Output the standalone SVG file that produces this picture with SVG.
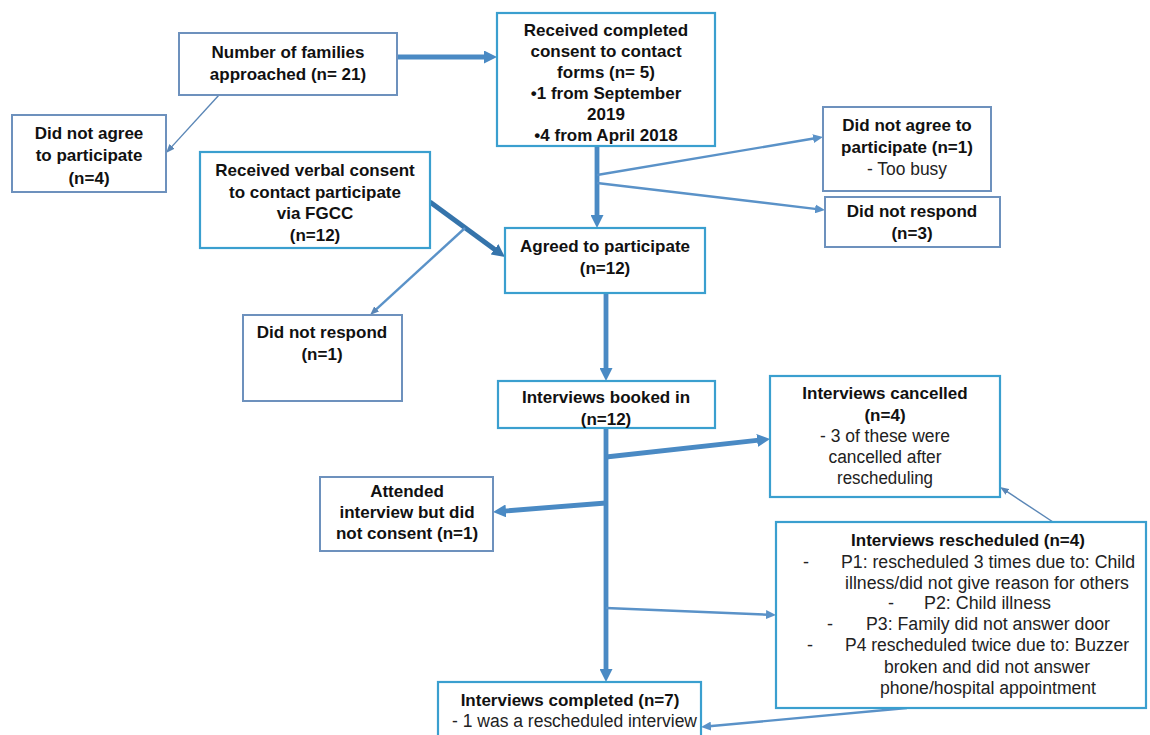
<svg xmlns="http://www.w3.org/2000/svg" width="1150" height="735" viewBox="0 0 1150 735">
  <style>
    .bc { fill: #ffffff; stroke: #3a9fcf; stroke-width: 2.2; }
    .bg { fill: #ffffff; stroke: #6d91bd; stroke-width: 2; }
    .t { font-family: "Liberation Sans", Arial, sans-serif; font-weight: bold; font-size: 17px; fill: #111111; text-anchor: middle; }
    .n { font-family: "Liberation Sans Narrow", "Liberation Sans", Arial, sans-serif; font-size: 18px; fill: #222222; }
    .m { text-anchor: middle; }
    .thick { stroke: #4a8ac4; stroke-width: 4.8; fill: none; }
    .dark { stroke: #3574ab; stroke-width: 5; fill: none; }
    .mid { stroke: #5a92c8; stroke-width: 2.4; fill: none; }
    .thin { stroke: #5a86b6; stroke-width: 1.4; fill: none; }
  </style>
  <defs>
    <marker id="ahL" markerUnits="userSpaceOnUse" markerWidth="14" markerHeight="13" refX="2" refY="6.5" orient="auto">
      <path d="M0,0 L13,6.5 L0,13 z" fill="#4a8ac4"/>
    </marker>
    <marker id="ahD" markerUnits="userSpaceOnUse" markerWidth="14" markerHeight="13" refX="2" refY="6.5" orient="auto">
      <path d="M0,0 L13,6.5 L0,13 z" fill="#3574ab"/>
    </marker>
    <marker id="ahM" markerUnits="userSpaceOnUse" markerWidth="11" markerHeight="9" refX="2" refY="4.5" orient="auto">
      <path d="M0,0 L10,4.5 L0,9 z" fill="#5a92c8"/>
    </marker>
    <marker id="ahS" markerUnits="userSpaceOnUse" markerWidth="10" markerHeight="7" refX="1" refY="3.5" orient="auto">
      <path d="M0,0 L9,3.5 L0,7 z" fill="#5a86b6"/>
    </marker>
  </defs>

  <rect width="1150" height="735" fill="#ffffff"/>

  <!-- connectors -->
  <g id="connectors">
    <line class="thick" x1="397" y1="57" x2="486" y2="57" marker-end="url(#ahL)"/>
    <line class="thin" x1="219" y1="95" x2="171.4" y2="147.1" marker-end="url(#ahS)"/>
    <line class="thick" x1="597" y1="146" x2="597" y2="217" marker-end="url(#ahL)"/>
    <line class="mid" x1="597" y1="175" x2="815.1" y2="138.3" marker-end="url(#ahM)"/>
    <line class="mid" x1="597" y1="183" x2="817.1" y2="209.1" marker-end="url(#ahM)"/>
    <line class="dark" x1="430" y1="202" x2="496.1" y2="250.5" marker-end="url(#ahD)"/>
    <line class="mid" x1="465" y1="228" x2="375.9" y2="309.6" marker-end="url(#ahS)"/>
    <line class="thick" x1="606" y1="293" x2="606" y2="370" marker-end="url(#ahL)"/>
    <line class="thick" x1="606" y1="428" x2="606" y2="671" marker-end="url(#ahL)"/>
    <line class="thick" x1="606" y1="457" x2="759.1" y2="440.2" marker-end="url(#ahL)"/>
    <line class="thick" x1="606" y1="503" x2="504" y2="511.1" marker-end="url(#ahL)"/>
    <line class="mid" x1="606" y1="608" x2="768" y2="614.7" marker-end="url(#ahM)"/>
    <line class="thin" x1="1053" y1="522" x2="1006.7" y2="491.4" marker-end="url(#ahS)"/>
    <line class="mid" x1="907" y1="708" x2="709" y2="726.3" marker-end="url(#ahM)"/>
  </g>

  <g id="families-approached">
    <rect class="bg" x="179" y="33" width="218" height="62"/>
    <text class="t" x="288" y="58">Number of families</text>
    <text class="t" x="288" y="80">approached (n= 21)</text>
  </g>

  <g id="consent-forms">
    <rect class="bc" x="497" y="13" width="218" height="133"/>
    <text class="t" x="606" y="36">Received completed</text>
    <text class="t" x="606" y="57">consent to contact</text>
    <text class="t" x="606" y="78">forms (n= 5)</text>
    <text class="t" x="606" y="99">•1 from September</text>
    <text class="t" x="606" y="120">2019</text>
    <text class="t" x="606" y="141">•4 from April 2018</text>
  </g>

  <g id="not-agree-4">
    <rect class="bg" x="12" y="115" width="154" height="77"/>
    <text class="t" x="89" y="139">Did not agree</text>
    <text class="t" x="89" y="161">to participate</text>
    <text class="t" x="89" y="184">(n=4)</text>
  </g>

  <g id="verbal-consent">
    <rect class="bc" x="200" y="152" width="230" height="96"/>
    <text class="t" x="315" y="176">Received verbal consent</text>
    <text class="t" x="315" y="198">to contact participate</text>
    <text class="t" x="315" y="219">via FGCC</text>
    <text class="t" x="315" y="241">(n=12)</text>
  </g>

  <g id="agreed">
    <rect class="bc" x="505" y="228" width="200" height="65"/>
    <text class="t" x="605" y="252">Agreed to participate</text>
    <text class="t" x="605" y="274">(n=12)</text>
  </g>

  <g id="not-agree-1">
    <rect class="bg" x="823" y="107" width="168" height="84"/>
    <text class="t" x="907" y="131">Did not agree to</text>
    <text class="t" x="907" y="153">participate (n=1)</text>
    <text class="n m" x="907" y="175" textLength="80" lengthAdjust="spacingAndGlyphs">- Too busy</text>
  </g>

  <g id="no-response-3">
    <rect class="bg" x="825" y="197" width="175" height="50"/>
    <text class="t" x="912" y="217">Did not respond</text>
    <text class="t" x="912" y="239">(n=3)</text>
  </g>

  <g id="no-response-1">
    <rect class="bg" x="243" y="315" width="159" height="86"/>
    <text class="t" x="322" y="338">Did not respond</text>
    <text class="t" x="322" y="360">(n=1)</text>
  </g>

  <g id="booked">
    <rect class="bc" x="498" y="381" width="217" height="47"/>
    <text class="t" x="606" y="403">Interviews booked in</text>
    <text class="t" x="606" y="425">(n=12)</text>
  </g>

  <g id="cancelled">
    <rect class="bc" x="770" y="376" width="230" height="121"/>
    <text class="t" x="885" y="399">Interviews cancelled</text>
    <text class="t" x="885" y="421">(n=4)</text>
    <text class="n m" x="885" y="442" textLength="130" lengthAdjust="spacingAndGlyphs">- 3 of these were</text>
    <text class="n m" x="885" y="463" textLength="113" lengthAdjust="spacingAndGlyphs">cancelled after</text>
    <text class="n m" x="885" y="484" textLength="96" lengthAdjust="spacingAndGlyphs">rescheduling</text>
  </g>

  <g id="attended">
    <rect class="bg" x="320" y="477" width="173" height="74"/>
    <text class="t" x="407" y="497">Attended</text>
    <text class="t" x="407" y="518">interview but did</text>
    <text class="t" x="407" y="539">not consent (n=1)</text>
  </g>

  <g id="rescheduled">
    <rect class="bc" x="776" y="522" width="370" height="186"/>
    <text class="t" x="968" y="546">Interviews rescheduled (n=4)</text>
    <text class="n" x="803" y="568">-</text>
    <text class="n" x="841" y="568" textLength="294" lengthAdjust="spacingAndGlyphs">P1: rescheduled 3 times due to: Child</text>
    <text class="n" x="845" y="589" textLength="284" lengthAdjust="spacingAndGlyphs">illness/did not give reason for others</text>
    <text class="n" x="888" y="609">-</text>
    <text class="n" x="924" y="609" textLength="127" lengthAdjust="spacingAndGlyphs">P2: Child illness</text>
    <text class="n" x="827" y="630">-</text>
    <text class="n" x="866" y="630" textLength="244" lengthAdjust="spacingAndGlyphs">P3: Family did not answer door</text>
    <text class="n" x="807" y="651">-</text>
    <text class="n" x="845" y="651" textLength="284" lengthAdjust="spacingAndGlyphs">P4 rescheduled twice due to: Buzzer</text>
    <text class="n" x="884" y="673" textLength="206" lengthAdjust="spacingAndGlyphs">broken and did not answer</text>
    <text class="n" x="880" y="694" textLength="216" lengthAdjust="spacingAndGlyphs">phone/hospital appointment</text>
  </g>

  <g id="completed">
    <rect class="bc" x="438" y="682" width="263" height="70"/>
    <text class="t" x="570" y="706">Interviews completed (n=7)</text>
    <text class="n" x="452" y="727" textLength="245" lengthAdjust="spacingAndGlyphs">- 1 was a rescheduled interview</text>
  </g>
</svg>
